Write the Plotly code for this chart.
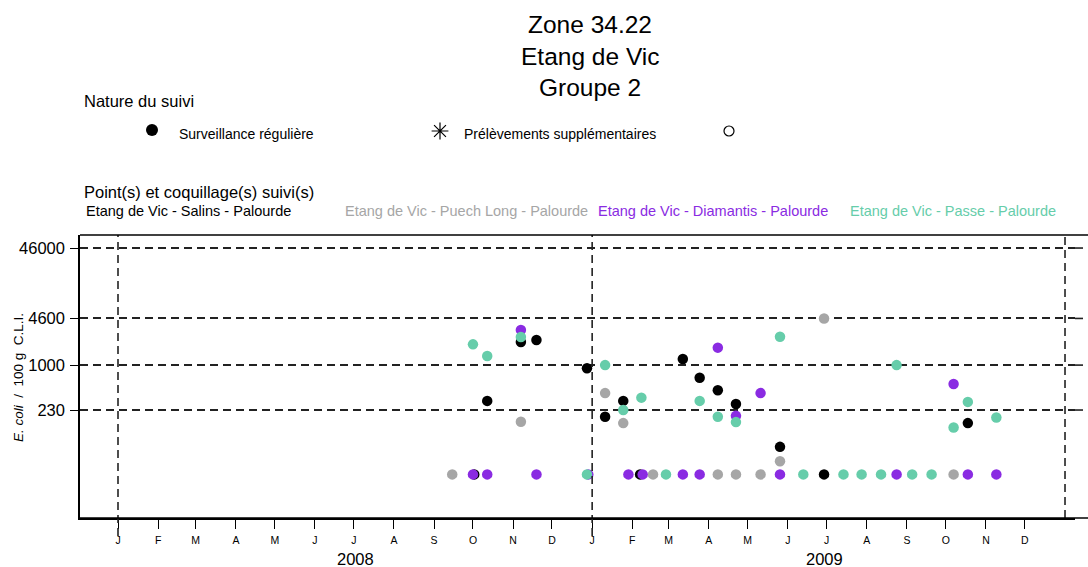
import plotly.graph_objects as go

# ---------------- data ----------------
salins_dates = ["2008-10-02", "2008-10-12", "2008-11-07", "2008-11-19", "2008-12-28",
                "2009-01-11", "2009-01-25", "2009-02-07", "2009-03-12", "2009-03-25",
                "2009-04-08", "2009-04-22", "2009-05-26", "2009-06-29", "2009-10-18"]
salins_vals = [28, 310, 2130, 2270, 900, 185, 310, 28, 1220, 660, 440, 280, 69, 28, 150]

puech_dates = ["2008-09-15", "2008-11-07", "2009-01-11", "2009-01-25", "2009-02-17",
               "2009-04-08", "2009-04-22", "2009-05-11", "2009-05-26", "2009-06-29",
               "2009-10-07"]
puech_vals = [28, 157, 400, 150, 28, 28, 28, 28, 43, 4600, 28]

diam_dates = ["2008-10-01", "2008-10-12", "2008-11-07", "2008-11-19", "2008-12-29",
              "2009-01-29", "2009-02-09", "2009-03-12", "2009-03-25", "2009-04-08",
              "2009-04-22", "2009-05-11", "2009-05-26", "2009-08-24", "2009-10-07",
              "2009-10-18", "2009-11-09"]
diam_vals = [28, 28, 3150, 28, 28, 28, 28, 28, 28, 1770, 190, 400, 28, 28, 540, 28, 28]

passe_dates = ["2008-10-01", "2008-10-12", "2008-11-07", "2008-12-28", "2009-01-11",
               "2009-01-25", "2009-02-08", "2009-02-27", "2009-03-25", "2009-04-08",
               "2009-04-22", "2009-05-26", "2009-06-13", "2009-07-14", "2009-07-28",
               "2009-08-12", "2009-08-24", "2009-09-05", "2009-09-20", "2009-10-07",
               "2009-10-18", "2009-11-09"]
passe_vals = [1970, 1350, 2500, 28, 1000, 230, 345, 28, 310, 185, 155, 2530, 28, 28, 28,
              28, 1000, 28, 28, 130, 300, 180]

series_names = ["Etang de Vic - Salins - Palourde", "Etang de Vic - Puech Long - Palourde",
                "Etang de Vic - Diamantis - Palourde", "Etang de Vic - Passe - Palourde"]
series_colors = ["#000000", "#A6A6A6", "#8A2BE2", "#66CDAA"]

y_tickvals = [230, 1000, 4600, 46000]
y_ticktext = ["230", "1000", "4600", "46000"]

month_ticks = [f"{y}-{m:02d}-01" for y in (2008, 2009) for m in range(1, 13)]
month_letters = ["J", "F", "M", "A", "M", "J", "J", "A", "S", "O", "N", "D"] * 2
year_labels = ["2008", "2009"]
year_label_dates = ["2008-07-02", "2009-06-29"]
year_bounds = ["2008-01-01", "2009-01-01", "2010-01-01"]

title_lines = ["Zone 34.22", "Etang de Vic", "Groupe 2"]
nature_labels = ["Surveillance régulière", "Prélèvements supplémentaires", ""]

# ---------------- layout helpers ----------------
W, H = 1088, 567
FONT = "Liberation Sans, Arial, sans-serif"
X_END = 1075  # right edge of the date axis domain, in pixels


def px(x):
    return x / W


def py(y):
    return 1 - y / H


fig = go.Figure()

all_dates = [salins_dates, puech_dates, diam_dates, passe_dates]
all_vals = [salins_vals, puech_vals, diam_vals, passe_vals]
for d, v, name, col in zip(all_dates, all_vals, series_names, series_colors):
    fig.add_trace(go.Scatter(x=d, y=v, mode="markers", name=name,
                             marker=dict(color=col, size=10.5, line=dict(width=0)),
                             showlegend=False, xaxis="x", yaxis="y"))

# legend glyphs (nature du suivi) on a pixel overlay axis
fig.add_trace(go.Scatter(x=[152], y=[130], mode="markers", showlegend=False,
                         marker=dict(symbol="circle", size=12, color="black"),
                         xaxis="x2", yaxis="y2", hoverinfo="skip"))
fig.add_trace(go.Scatter(x=[440], y=[131], mode="markers", showlegend=False,
                         marker=dict(symbol="asterisk-open", size=14, color="black",
                                     line=dict(color="black", width=1.2)),
                         xaxis="x2", yaxis="y2", hoverinfo="skip"))
fig.add_trace(go.Scatter(x=[729], y=[131], mode="markers", showlegend=False,
                         marker=dict(symbol="circle-open", size=10, color="black",
                                     line=dict(color="black", width=1.2)),
                         xaxis="x2", yaxis="y2", hoverinfo="skip"))

ann = []
title_y = [25, 57, 87]
for t, yy in zip(title_lines, title_y):
    ann.append(dict(text=t, x=px(590), y=py(yy), xref="paper", yref="paper",
                    xanchor="center", yanchor="middle", showarrow=False,
                    font=dict(size=24.5, color="black", family=FONT)))

ann.append(dict(text="Nature du suivi", x=px(82), y=py(101), xref="paper", yref="paper",
                xanchor="left", yanchor="middle", showarrow=False,
                font=dict(size=16.5, color="black", family=FONT)))
for t, xx in zip(nature_labels, [177, 462, 752]):
    if t:
        ann.append(dict(text=t, x=px(xx), y=py(134), xref="paper", yref="paper",
                        xanchor="left", yanchor="middle", showarrow=False,
                        font=dict(size=14, color="black", family=FONT)))

ann.append(dict(text="Point(s) et coquillage(s) suivi(s)", x=px(82), y=py(192),
                xref="paper", yref="paper", xanchor="left", yanchor="middle",
                showarrow=False, font=dict(size=16.5, color="black", family=FONT)))
for t, col, xx in zip(series_names, series_colors, [84, 343, 596, 848]):
    ann.append(dict(text=t, x=px(xx), y=py(211), xref="paper", yref="paper",
                    xanchor="left", yanchor="middle", showarrow=False,
                    font=dict(size=14.5, color=col, family=FONT)))

for t, d in zip(year_labels, year_label_dates):
    ann.append(dict(text=t, x=d, y=py(559), xref="x", yref="paper",
                    xanchor="center", yanchor="middle", showarrow=False,
                    font=dict(size=16.5, color="black", family=FONT)))

ann.append(dict(text="<i>E. coli</i>  /  100 g  C.L.I.", x=px(18), y=py(378),
                xref="paper", yref="paper", xanchor="center", yanchor="middle",
                textangle=-90, showarrow=False,
                font=dict(size=13.5, color="black", family=FONT)))

shapes = []
for i, d in enumerate(year_bounds):
    shapes.append(dict(type="line", xref="x", yref="paper", x0=d, x1=d,
                       y0=py(536) if i < 2 else py(518), y1=py(235),
                       line=dict(color="#222222", width=1.6, dash="8px,5px")))
# top and bottom borders of the frame, which run past the right edge of the image
for yy in (235, 518):
    shapes.append(dict(type="line", xref="paper", yref="paper", x0=px(80), x1=1,
                       y0=py(yy), y1=py(yy), line=dict(color="black", width=1.5)))
# horizontal dashed guide lines continue to the image edge
for v in y_tickvals:
    shapes.append(dict(type="line", xref="paper", yref="y", x0=px(X_END), x1=1,
                       y0=v, y1=v, line=dict(color="#222222", width=1.6,
                                             dash="8px,5px")))

fig.update_layout(
    width=W, height=H,
    margin=dict(l=0, r=0, t=0, b=0),
    paper_bgcolor="white", plot_bgcolor="rgba(0,0,0,0)",
    font=dict(family=FONT, color="black"),
    xaxis=dict(domain=[px(80), px(X_END)], type="date",
               range=["2007-12-02 16:00", "2010-01-08 17:00"],
               tickvals=month_ticks, ticktext=month_letters,
               ticks="outside", ticklen=9, tickwidth=1.3, tickcolor="black",
               tickfont=dict(size=10.5, color="black", family=FONT),
               ticklabelstandoff=3,
               showgrid=False, zeroline=False,
               showline=True, linecolor="black", linewidth=1.5, mirror=False,
               anchor="y"),
    yaxis=dict(domain=[py(518), py(235)], type="log", range=[0.828, 4.848],
               tickvals=y_tickvals, ticktext=y_ticktext,
               ticks="outside", ticklen=8, tickwidth=1.3, tickcolor="black",
               tickfont=dict(size=16.5, color="black", family=FONT),
               ticklabelstandoff=2,
               showgrid=True, gridcolor="#222222", gridwidth=1.6, griddash="8px,5px",
               zeroline=False, showline=True, linecolor="black", linewidth=1.5,
               mirror=False, anchor="x"),
    xaxis2=dict(domain=[0, 1], range=[0, W], visible=False, anchor="y2",
                fixedrange=True),
    yaxis2=dict(domain=[0, 1], range=[H, 0], visible=False, anchor="x2",
                fixedrange=True),
    annotations=ann,
    shapes=shapes,
    showlegend=False,
)

fig.write_html("out.html",
               config={"displayModeBar": False},
               post_script="document.body.style.margin='0';"
                           "document.body.style.overflow='hidden';")
